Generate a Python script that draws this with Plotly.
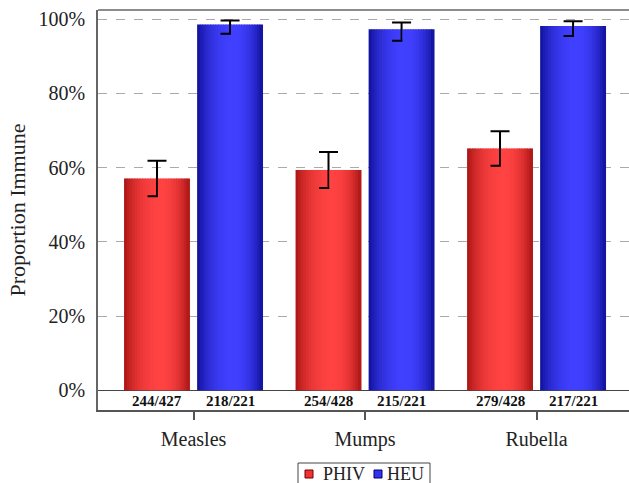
import plotly.graph_objects as go
import numpy as np

categories = ["Measles", "Mumps", "Rubella"]
series_names = ["PHIV", "HEU"]
phiv_values = [57.1, 59.4, 65.2]
heu_values = [98.6, 97.3, 98.2]
phiv_err_hi = [61.9, 64.2, 69.8]
phiv_err_lo = [52.3, 54.5, 60.5]
heu_err_hi = [99.7, 99.1, 99.5]
heu_err_lo = [96.1, 94.2, 95.5]
phiv_counts = ["244/427", "254/428", "279/428"]
heu_counts = ["218/221", "215/221", "217/221"]
y_tick_vals = [0, 20, 40, 60, 80, 100]
y_tick_text = ["0%", "20%", "40%", "60%", "80%", "100%"]

FONT = "Liberation Serif, Times New Roman, serif"
BAR_W = 0.379
SHIFT = 0.213
N_STRIPES = 25

# plot area in pixels (for converting legend placement)
L, R, T, B = 98, 629, 10, 410
PW, PH = R - L, B - T


def px(xp):
    return (xp - L) / PW


def py(yp):
    return (B - yp) / PH


red_dark = np.array([165, 18, 18])
red_light = np.array([255, 66, 66])
blue_dark = np.array([14, 14, 148])
blue_light = np.array([64, 64, 255])


def shade(u, dark, light):
    peak = 0.56
    d = (u - peak) / (peak if u < peak else 1 - peak)
    w = max(0.0, 1 - d * d) ** 0.8
    c = dark + (light - dark) * w
    return "rgb(%d,%d,%d)" % tuple(int(round(v)) for v in c)


fig = go.Figure()
xs = np.arange(len(categories))

series = [
    (phiv_values, phiv_err_hi, phiv_err_lo, -SHIFT, red_dark, red_light),
    (heu_values, heu_err_hi, heu_err_lo, SHIFT, blue_dark, blue_light),
]

sw = BAR_W / N_STRIPES
for vals, ehi, elo, shift, dark, light in series:
    for k in range(N_STRIPES):
        u = (k + 0.5) / N_STRIPES
        centre = shift - BAR_W / 2 + (k + 0.5) * sw
        kw = {}
        if k == N_STRIPES // 2:
            kw["error_y"] = dict(
                type="data", symmetric=False,
                array=[h - v for h, v in zip(ehi, vals)],
                arrayminus=[v - l for v, l in zip(vals, elo)],
                color="black", thickness=2, width=9.5,
            )
        fig.add_trace(go.Bar(
            x=xs + centre, y=vals, width=sw * 1.35,
            marker=dict(color=shade(u, dark, light), line=dict(width=0)),
            showlegend=False, hoverinfo="skip", **kw,
        ))

# count labels
for i in range(len(categories)):
    for txt, shift in [(phiv_counts[i], -SHIFT), (heu_counts[i], SHIFT)]:
        fig.add_annotation(x=i + shift, y=-3.0, text="<b>%s</b>" % txt, showarrow=False,
                           font=dict(family=FONT, size=15, color="#111"))

# top frame line
fig.add_shape(type="line", xref="paper", yref="paper", x0=0, x1=1.01, y0=1, y1=1,
              line=dict(color="#666", width=1.5))

# hand-built legend (boxed, bottom centre)
fig.add_shape(type="rect", xref="paper", yref="paper", x0=px(298), x1=px(430),
              y0=py(492), y1=py(463), line=dict(color="#444", width=1), fillcolor="white")
legend_items = [
    (series_names[0], "rgb(240,50,50)", "rgb(110,0,0)", 305, 321),
    (series_names[1], "rgb(50,50,240)", "rgb(0,0,100)", 374, 385),
]
for name, fill, edge, sx, tx in legend_items:
    fig.add_shape(type="rect", xref="paper", yref="paper", x0=px(sx), x1=px(sx + 8),
                  y0=py(478), y1=py(470), line=dict(color=edge, width=1), fillcolor=fill)
    fig.add_annotation(xref="paper", yref="paper", x=px(tx), y=py(474), text=name,
                       xanchor="left", yanchor="middle", showarrow=False,
                       font=dict(family=FONT, size=18, color="#222"))

fig.update_layout(
    width=629, height=483,
    margin=dict(l=L, r=629 - R, t=T, b=483 - B, autoexpand=False),
    plot_bgcolor="white", paper_bgcolor="white",
    barmode="overlay",
    font=dict(family=FONT, color="#222"),
    showlegend=False,
    xaxis=dict(
        range=[-0.557, 2.539], tickmode="array", tickvals=list(xs), ticktext=categories,
        showgrid=False, zeroline=False, showline=True, linecolor="#555", linewidth=1.5,
        ticks="outside", ticklen=8, tickcolor="#555", tickwidth=1.5, automargin=False,
        tickfont=dict(size=20, family=FONT, color="#222"), ticklabelstandoff=2,
    ),
    yaxis=dict(
        range=[-5.3, 102.5], tickmode="array", tickvals=y_tick_vals, ticktext=y_tick_text,
        showgrid=True, gridcolor="#aaa", griddash="dash", gridwidth=1,
        zeroline=True, zerolinecolor="#444", zerolinewidth=1.2, automargin=False,
        showline=True, linecolor="#666", linewidth=1.5, ticks="",
        tickfont=dict(size=20, family=FONT, color="#222"), ticklabelstandoff=7,
        title=dict(text="Proportion Immune", font=dict(size=22, family=FONT, color="#222"), standoff=7),
    ),
)

fig.write_html("out.html", config={"displayModeBar": False},
               post_script="document.body.style.margin='0';")
